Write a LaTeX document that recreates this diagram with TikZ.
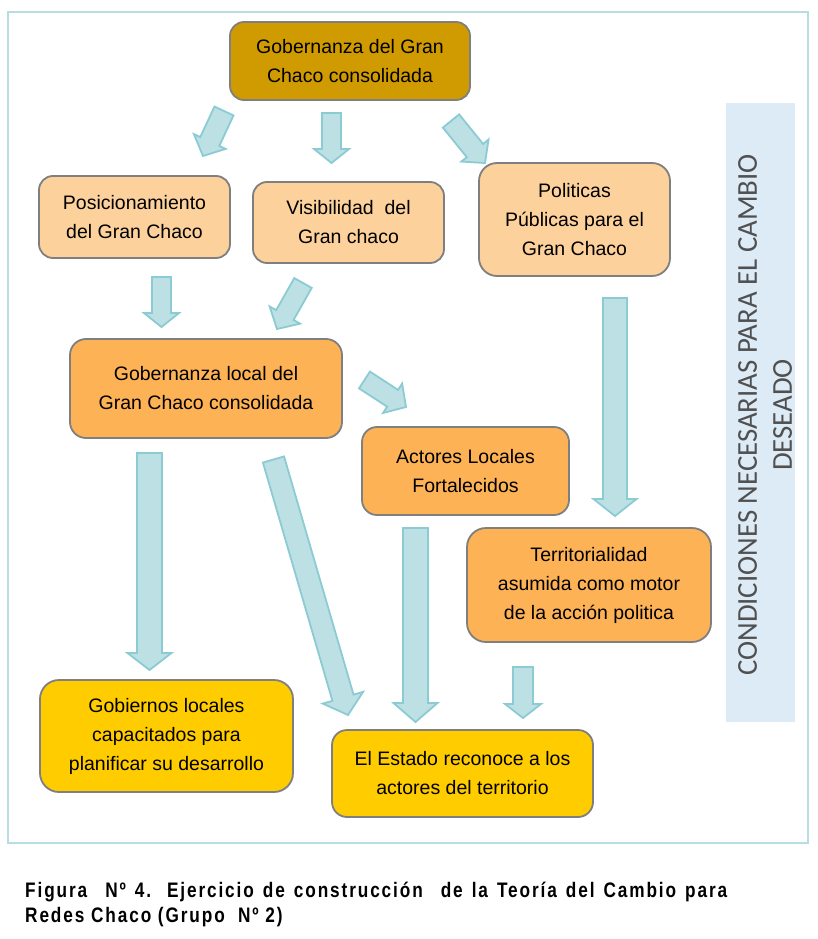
\documentclass[tikz,border=0pt]{standalone}
\usepackage{fontspec}
\setmainfont{Liberation Sans}
\newfontfamily\sidefont{Carlito}
\newfontfamily\capfont[FakeStretch=0.82,LetterSpace=9]{Liberation Sans}
\usetikzlibrary{calc}
\definecolor{cgold}{RGB}{208,155,0}
\definecolor{cpeach}{RGB}{252,209,155}
\definecolor{corange}{RGB}{253,178,86}
\definecolor{cyellow}{RGB}{255,204,0}
\definecolor{cborder}{RGB}{127,127,127}
\definecolor{carrfill}{RGB}{189,224,228}
\definecolor{carrline}{RGB}{139,203,211}
\definecolor{cframe}{RGB}{183,222,227}
\definecolor{cpanel}{RGB}{221,235,247}
\definecolor{cside}{RGB}{80,80,80}
\tikzset{
  box/.style={draw=cborder, line width=1.8pt, inner sep=0pt, align=center,
    font=\fontsize{19.5}{29}\selectfont, text=black},
  barr/.style={fill=carrfill, draw=carrline, line width=1.8pt, line join=miter},
  captext/.style={anchor=base west, inner sep=0pt, font=\capfont\bfseries\fontsize{21}{24}\selectfont},
}
\newcommand\barrow[5]{%
  \coordinate (bh) at ($(#2)!#5!(#1)$);
  \draw[barr] ($(#1)!#3!90:(#2)$) -- ($(bh)!#3!90:(#2)$) -- ($(bh)!#4!90:(#2)$) -- (#2)
     -- ($(bh)!#4!-90:(#2)$) -- ($(bh)!#3!-90:(#2)$) -- ($(#1)!#3!-90:(#2)$) -- cycle;
}
\begin{document}
\begin{tikzpicture}[x=1pt,y=-1pt]
\useasboundingbox[fill=white] (0,0) rectangle (818,939);
\draw[cframe, line width=1.5pt] (8,12) rectangle (808,843);
\node[fill=cpanel, minimum width=69pt, minimum height=619pt, inner sep=0pt] (panel) at (760.5,412.5) {};
\node[rotate=90, align=center, text=cside, font=\sidefont\fontsize{28.8}{35}\selectfont] (side) at (765,415)
  {CONDICIONES NECESARIAS PARA EL CAMBIO\\DESEADO};

\node[box, fill=cgold, rounded corners=14pt, minimum width=240pt, minimum height=78pt] (n1) at (350,61)
  {Gobernanza del Gran\\Chaco consolidada};
\node[box, fill=cpeach, rounded corners=14pt, minimum width=191pt, minimum height=82pt] (n2) at (134.5,217)
  {Posicionamiento\\del Gran Chaco};
\node[box, fill=cpeach, rounded corners=14pt, minimum width=191pt, minimum height=81pt] (n3) at (348.5,222.5)
  {Visibilidad\ \ del\\Gran chaco};
\node[box, fill=cpeach, rounded corners=18pt, minimum width=191pt, minimum height=113pt] (n4) at (574.5,219.5)
  {Politicas\\Públicas para el\\Gran Chaco};
\node[box, fill=corange, rounded corners=16pt, minimum width=272pt, minimum height=99pt] (n5) at (206,388.5)
  {Gobernanza local del\\Gran Chaco consolidada};
\node[box, fill=corange, rounded corners=15pt, minimum width=207pt, minimum height=88pt] (n6) at (465.5,471)
  {Actores Locales\\Fortalecidos};
\node[box, fill=corange, rounded corners=19pt, minimum width=244pt, minimum height=114pt] (n7) at (589,585)
  {Territorialidad\\asumida como motor\\de la acción politica};
\node[box, fill=cyellow, rounded corners=19pt, minimum width=253pt, minimum height=112pt] (n8) at (166.5,736)
  {Gobiernos locales\\capacitados para\\planificar su desarrollo};
\node[box, fill=cyellow, rounded corners=15pt, minimum width=261pt, minimum height=87pt] (n9) at (462.5,773.5)
  {El Estado reconoce a los\\actores del territorio};

% arrow end points
\coordinate (a1s) at (224,111);   \coordinate (a1e) at (203,156);
\coordinate (a2s) at (331.5,113); \coordinate (a2e) at (331.5,163);
\coordinate (a3s) at (451,121);   \coordinate (a3e) at (485,163);
\coordinate (a4s) at (161.5,277); \coordinate (a4e) at (161.5,327);
\coordinate (a5s) at (303,283);   \coordinate (a5e) at (277,329);
\coordinate (a6s) at (364.5,380); \coordinate (a6e) at (406,407);
\coordinate (a7s) at (149.5,453); \coordinate (a7e) at (149.5,670);
\coordinate (a8s) at (273.5,459.5); \coordinate (a8e) at (348,715);
\coordinate (a9s) at (415.5,528); \coordinate (a9e) at (415.5,722);
\coordinate (a10s) at (615,298);  \coordinate (a10e) at (615,516);
\coordinate (a11s) at (523,667);  \coordinate (a11e) at (523,718);

\barrow{a1s}{a1e}{10.5pt}{17.5pt}{16pt}
\barrow{a2s}{a2e}{9.5pt}{17.5pt}{14pt}
\barrow{a3s}{a3e}{10.5pt}{17.5pt}{16pt}
\barrow{a4s}{a4e}{9.5pt}{17.5pt}{14pt}
\barrow{a5s}{a5e}{10pt}{17.5pt}{16pt}
\barrow{a6s}{a6e}{10pt}{17.5pt}{16pt}
\barrow{a7s}{a7e}{12.5pt}{22pt}{17pt}
\barrow{a8s}{a8e}{11pt}{21pt}{18pt}
\barrow{a9s}{a9e}{12.5pt}{22pt}{19pt}
\barrow{a10s}{a10e}{12pt}{21.5pt}{17pt}
\barrow{a11s}{a11e}{10pt}{18pt}{14pt}

\node[captext] (cap1) at (25,897)
  {\makebox[702pt][s]{Figura\ \ Nº 4. Ejercicio de construcción\ \ de la Teoría del Cambio para}};
\node[captext] (cap2) at (25,922)
  {Redes Chaco (Grupo\ \ Nº 2)};
\end{tikzpicture}
\end{document}
